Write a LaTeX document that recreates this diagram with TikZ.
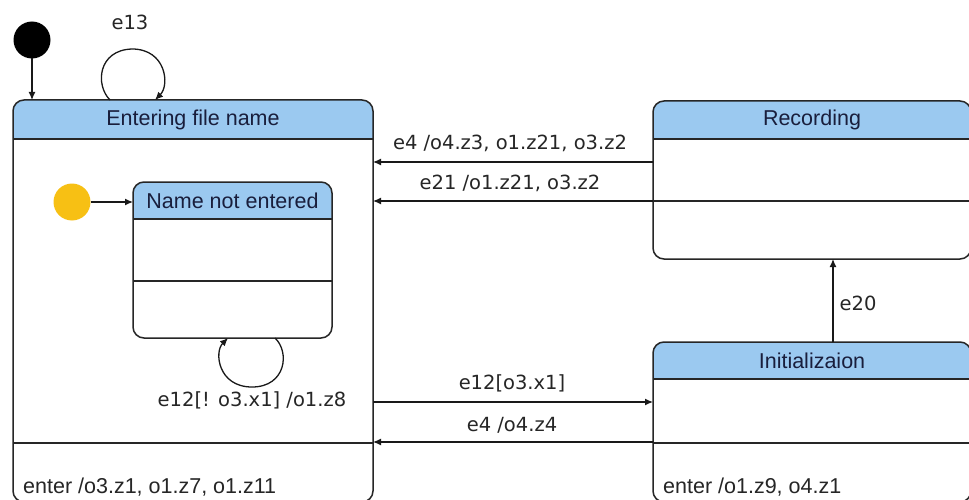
\documentclass[tikz,border=0pt]{standalone}
\usepackage{fontspec}
\setmainfont{Liberation Sans}
\newfontfamily\lblfont{DejaVu Sans}
\usetikzlibrary{arrows.meta}
\definecolor{hdr}{RGB}{155,201,240}
\definecolor{dotc}{RGB}{247,192,20}
\definecolor{navy}{RGB}{25,30,60}
\begin{document}
\begin{tikzpicture}[x=1pt,y=-1pt,
  sbox/.style={inner sep=0pt, outer sep=0pt, anchor=north west},
  outline/.style={draw=black!85, line width=1.5pt, rounded corners=11pt},
  sep/.style={draw=black!85, line width=1.5pt},
  arr/.style={draw=black!90, line width=1.3pt, -{Latex[length=8pt,width=7pt]}},
  lbl/.style={font=\lblfont\fontsize{19.5}{22}\selectfont, text=black!85, inner sep=0pt},
  sname/.style={font=\fontsize{21.5}{24}\selectfont, text=navy, inner sep=0pt},
  entertxt/.style={font=\fontsize{21.5}{24}\selectfont, text=black!85, inner sep=0pt, anchor=west},
  pseudo/.style={circle, inner sep=0pt, outer sep=0pt, minimum size=37pt}
]
\fill[white] (0,0) rectangle (969,500);
\useasboundingbox (0,0) rectangle (969,500);

% state shapes
\node[sbox, minimum width=360pt, minimum height=402pt] (efn) at (13,100) {};
\node[sbox, minimum width=199pt, minimum height=156pt] (nne) at (133,182) {};
\node[sbox, minimum width=318pt, minimum height=158pt] (rec) at (653,101) {};
\node[sbox, minimum width=318pt, minimum height=160pt] (ini) at (653,342) {};

% headers
\foreach \s/\h in {efn/39, nne/37, rec/38, ini/37}{
  \begin{scope}
    \clip[rounded corners=11pt] (\s.north west) rectangle (\s.south east);
    \fill[hdr] (\s.north west) rectangle ([yshift=-\h pt]\s.north east);
  \end{scope}
  \draw[outline] (\s.north west) rectangle (\s.south east);
  \draw[sep] ([yshift=-\h pt]\s.north west) -- ([yshift=-\h pt]\s.north east);
}

% dividers
\draw[sep] (efn.west |- 0,443) -- (efn.east |- 0,443);
\draw[sep] (nne.west |- 0,281) -- (nne.east |- 0,281);
\draw[sep] (rec.west |- 0,201) -- (rec.east |- 0,201);
\draw[sep] (ini.west |- 0,443) -- (ini.east |- 0,443);

% state texts
\node[sname] (efnT) at ([yshift=-19.5pt]efn.north) {Entering file name};
\node[sname] (nneT) at ([yshift=-18.5pt]nne.north) {Name not entered};
\node[sname] (recT) at ([yshift=-19pt]rec.north) {Recording};
\node[sname] (iniT) at ([yshift=-18.5pt]ini.north) {Initializaion};
\node[entertxt] (efnE) at (23,487) {enter /o3.z1, o1.z7, o1.z11};
\node[entertxt] (iniE) at (663,487) {enter /o1.z9, o4.z1};

% pseudo states
\node[pseudo, fill=black] (init) at (32,40) {};
\node[pseudo, fill=dotc] (init2) at (72,202) {};
\draw[arr] (init) -- (init |- efn.north);
\draw[arr] (init2) -- (nne.west |- init2);

% self loops
\coordinate (l1a) at (110,100);
\coordinate (l1b) at (155,100);
\draw[arr] (l1a) .. controls (95,85) and (98,50) .. (132,49)
                 .. controls (166,49) and (170,85) .. (l1b);
\node[lbl] (e13) at (130,22) {e13};

\coordinate (l2a) at (275,338);
\coordinate (l2b) at (228,338);
\draw[arr] (l2a) .. controls (290,352) and (286,387) .. (252,387)
                 .. controls (218,387) and (214,352) .. (l2b);
\node[lbl] (e12a) at (252,400) {e12[! o3.x1] /o1.z8};

% transitions
\draw[arr] (rec.west |- 0,162) -- (efn.east |- 0,162);
\node[lbl] (t1) at (510,143) {e4 /o4.z3, o1.z21, o3.z2};
\draw[arr] (rec.west |- 0,201) -- (efn.east |- 0,201);
\node[lbl] (t2) at (510,183) {e21 /o1.z21, o3.z2};
\draw[arr] (efn.east |- 0,402) -- (ini.west |- 0,402);
\node[lbl] (t3) at (512,383) {e12[o3.x1]};
\draw[arr] (ini.west |- 0,442) -- (efn.east |- 0,442);
\node[lbl] (t4) at (512,425) {e4 /o4.z4};
\draw[arr] (ini.north -| 833,0) -- (rec.south -| 833,0);
\node[lbl] (t5) at (858,303) {e20};
\end{tikzpicture}
\end{document}
